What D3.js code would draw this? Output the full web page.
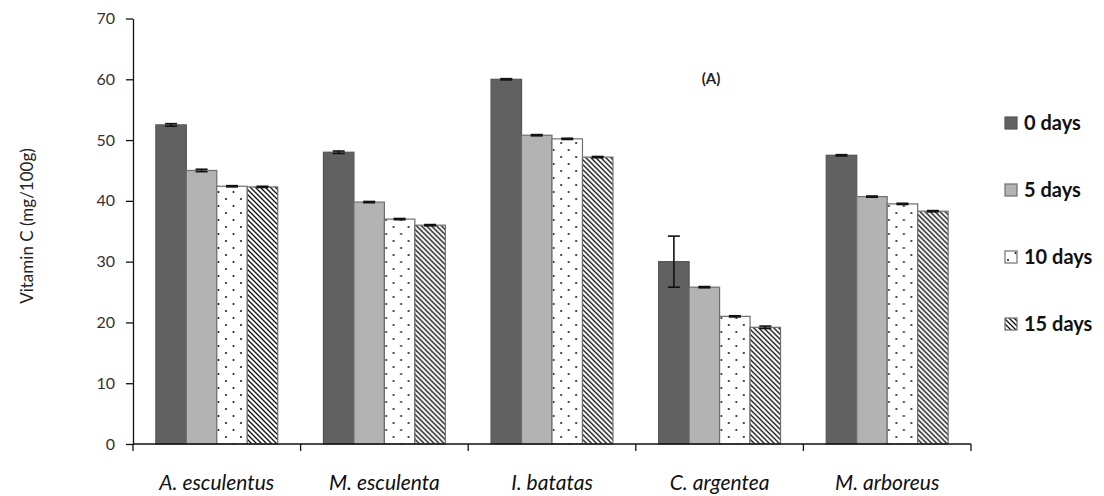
<!DOCTYPE html>
<html>
<head>
<meta charset="utf-8">
<script src="https://cdn.jsdelivr.net/npm/d3@7"></script>
<style>
  html, body { margin: 0; padding: 0; background: #fff; }
  svg { display: block; font-family: Lato, "Open Sans", sans-serif; }
</style>
</head>
<body>
<svg id="chart" width="1104" height="496"></svg>
<script>
// Vitamin C content of leafy vegetables over storage time
const species = ["A. esculentus", "M. esculenta", "I. batatas", "C. argentea", "M. arboreus"];
const storage = ["0 days", "5 days", "10 days", "15 days"];

// mean values (mg/100g), one array per storage period
const day0  = [52.5, 48.0, 60.0, 30.0, 47.5];
const day5  = [45.0, 39.8, 50.8, 25.8, 40.7];
const day10 = [42.4, 37.0, 50.2, 21.0, 39.5];
const day15 = [42.3, 36.0, 47.2, 19.2, 38.3];

// standard deviations
const err0  = [0.2, 0.2, 0.1, 4.2, 0.1];
const err5  = [0.2, 0.1, 0.1, 0.1, 0.1];
const err10 = [0.1, 0.1, 0.1, 0.1, 0.1];
const err15 = [0.1, 0.1, 0.1, 0.2, 0.1];

const yTicks = [0, 10, 20, 30, 40, 50, 60, 70];

const means = [day0, day5, day10, day15];
const errs  = [err0, err5, err10, err15];

const svg = d3.select("#chart");
const defs = svg.append("defs");

// dotted fill
const dots = defs.append("pattern")
  .attr("id", "dots").attr("patternUnits", "userSpaceOnUse")
  .attr("width", 15).attr("height", 14);
dots.append("rect").attr("width", 15).attr("height", 14).attr("fill", "#fff");
dots.append("circle").attr("cx", 3).attr("cy", 3).attr("r", 1).attr("fill", "#111");
dots.append("circle").attr("cx", 10.5).attr("cy", 10).attr("r", 1).attr("fill", "#111");

// diagonal hatch fill
const hatch = defs.append("pattern")
  .attr("id", "hatch").attr("patternUnits", "userSpaceOnUse")
  .attr("width", 5).attr("height", 5);
hatch.append("rect").attr("width", 5).attr("height", 5).attr("fill", "#fff");
hatch.append("path")
  .attr("d", "M-1,-1 L6,6 M-1,4 L1,6 M4,-1 L6,1")
  .attr("stroke", "#111").attr("stroke-width", 1.3);

const fills   = ["#616161", "#b3b3b3", "url(#dots)", "url(#hatch)"];
const strokes = ["#555", "#6e6e6e", "#6e6e6e", "#6e6e6e"];

const y = d3.scaleLinear().domain([0, 70]).range([444, 18.5]);
const x0 = d3.scaleBand().domain(species).range([133, 971]).paddingInner(0).paddingOuter(0);
const x1 = d3.scaleBand().domain(storage).range([0, x0.bandwidth()]).paddingInner(0).paddingOuter(0.75);

// bars
const groups = svg.append("g").selectAll("g")
  .data(species).join("g")
  .attr("transform", d => `translate(${x0(d)},0)`);

groups.selectAll("rect")
  .data((d, i) => storage.map((s, k) => ({ s, k, v: means[k][i], e: errs[k][i] })))
  .join("rect")
  .attr("x", d => x1(d.s))
  .attr("y", d => y(d.v))
  .attr("width", x1.bandwidth())
  .attr("height", d => y(0) - y(d.v))
  .attr("fill", d => fills[d.k])
  .attr("stroke", d => strokes[d.k])
  .attr("stroke-width", 1.2);

// error bars
const eb = groups.selectAll("g.err")
  .data((d, i) => storage.map((s, k) => ({ s, k, v: means[k][i], e: errs[k][i] })))
  .join("g").attr("class", "err")
  .attr("transform", d => `translate(${x1(d.s) + x1.bandwidth() / 2},0)`);
eb.append("line")
  .attr("y1", d => y(d.v - d.e)).attr("y2", d => y(d.v + d.e))
  .attr("stroke", "#111").attr("stroke-width", 1.6);
eb.append("line")
  .attr("x1", -6).attr("x2", 6)
  .attr("y1", d => y(d.v + d.e)).attr("y2", d => y(d.v + d.e))
  .attr("stroke", "#111").attr("stroke-width", 1.6);
eb.append("line")
  .attr("x1", -6).attr("x2", 6)
  .attr("y1", d => y(d.v - d.e)).attr("y2", d => y(d.v - d.e))
  .attr("stroke", "#111").attr("stroke-width", 1.6);

// y axis
const yAxis = svg.append("g")
  .attr("transform", "translate(133,0)")
  .call(d3.axisLeft(y).tickValues(yTicks).tickSize(7).tickPadding(11).tickSizeOuter(0));
yAxis.select(".domain").attr("stroke", "#111").attr("stroke-width", 1.3);
yAxis.selectAll(".tick line").attr("stroke", "#111").attr("stroke-width", 1.3);
yAxis.selectAll(".tick text")
  .attr("font-family", "Lato, sans-serif").attr("font-size", 16).attr("fill", "#333");

// x axis: ticks sit on category boundaries
const bounds = species.map(d => x0(d)).concat([x0(species[species.length - 1]) + x0.bandwidth()]);
const xAxis = svg.append("g").attr("transform", "translate(0,444)");
xAxis.append("line").attr("x1", 133).attr("x2", 971)
  .attr("stroke", "#111").attr("stroke-width", 1.3);
xAxis.selectAll("line.tk").data(bounds).join("line").attr("class", "tk")
  .attr("x1", d => d).attr("x2", d => d).attr("y1", 0).attr("y2", 7)
  .attr("stroke", "#111").attr("stroke-width", 1.3);
xAxis.selectAll("text").data(species).join("text")
  .attr("x", d => x0(d) + x0.bandwidth() / 2)
  .attr("y", 46)
  .attr("text-anchor", "middle")
  .attr("font-style", "italic")
  .attr("font-size", 21)
  .attr("fill", "#111")
  .text(d => d);

// y axis title
svg.append("text")
  .attr("transform", "translate(33,226) rotate(-90)")
  .attr("text-anchor", "middle")
  .attr("font-size", 17)
  .attr("fill", "#222")
  .text("Vitamin C (mg/100g)");

// panel label
svg.append("text")
  .attr("x", 711).attr("y", 84)
  .attr("text-anchor", "middle")
  .attr("font-weight", "bold")
  .attr("font-size", 15)
  .attr("fill", "#222")
  .text("(A)");

// legend
const legend = svg.append("g").selectAll("g")
  .data(storage).join("g")
  .attr("transform", (d, i) => `translate(1005,${123 + i * 67})`);
legend.append("rect")
  .attr("x", 0).attr("y", -6).attr("width", 12).attr("height", 12)
  .attr("fill", (d, i) => fills[i]).attr("stroke", (d, i) => strokes[i]).attr("stroke-width", 1.2);
legend.append("text")
  .attr("x", 19).attr("y", 7)
  .attr("font-weight", "bold").attr("font-size", 20).attr("fill", "#111")
  .text(d => d);
</script>
</body>
</html>
